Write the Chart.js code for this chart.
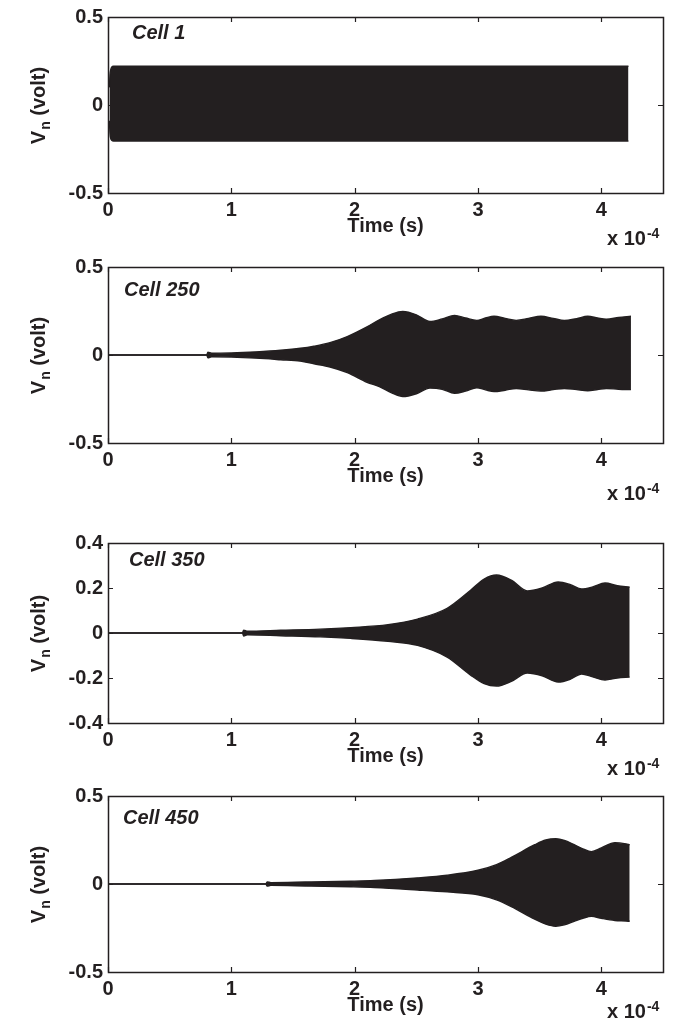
<!DOCTYPE html>
<html>
<head>
<meta charset="utf-8">
<script src="https://cdn.jsdelivr.net/npm/chart.js@4.4.1/dist/chart.umd.min.js"></script>
<style>
  html, body { margin: 0; padding: 0; background: #fff; }
  #wrap { position: relative; width: 685px; height: 1031px; }
  canvas { position: absolute; left: 0; }
</style>
</head>
<body>
<div id="wrap">
  <canvas id="p1" width="685" height="250" style="top:0px"></canvas>
  <canvas id="p2" width="685" height="275" style="top:250px"></canvas>
  <canvas id="p3" width="685" height="254" style="top:525px"></canvas>
  <canvas id="p4" width="685" height="252" style="top:779px"></canvas>
</div>
<script>
// envelope of V_n, time in units of 1e-4 s

const xTicks = [0, 1, 2, 3, 4];
const yTicksHalf = [-0.5, 0, 0.5];
const yTicksCell350 = [-0.4, -0.2, 0, 0.2, 0.4];
const cellLabels = ["Cell 1", "Cell 250", "Cell 350", "Cell 450"];

// Cell 1
const time1  = [0.012, 0.016, 0.022, 0.03, 0.045, 1.0, 2.0, 3.0, 4.0, 4.22];
const upper1 = [0.10, 0.17, 0.20, 0.215, 0.22, 0.22, 0.22, 0.22, 0.22, 0.22];
const lower1 = [-0.09, -0.16, -0.19, -0.2, -0.205, -0.205, -0.205, -0.205, -0.205, -0.205];

// Cell 250
const time2  = [0, 0.80, 0.81, 0.84, 1.0, 1.2, 1.4, 1.56, 1.67, 1.8, 1.94, 2.1, 2.2, 2.3, 2.39, 2.5, 2.61, 2.71, 2.81, 2.9, 2.99, 3.06, 3.13, 3.22, 3.31, 3.41, 3.51, 3.61, 3.7, 3.8, 3.89, 3.97, 4.04, 4.14, 4.24];
const upper2 = [0, 0, 0.016, 0.01, 0.012, 0.018, 0.027, 0.038, 0.05, 0.07, 0.105, 0.16, 0.2, 0.232, 0.247, 0.228, 0.19, 0.205, 0.225, 0.21, 0.197, 0.21, 0.22, 0.208, 0.197, 0.208, 0.22, 0.208, 0.196, 0.207, 0.22, 0.21, 0.203, 0.213, 0.22];
const lower2 = [0, 0, -0.016, -0.01, -0.012, -0.018, -0.027, -0.035, -0.05, -0.068, -0.1, -0.155, -0.18, -0.215, -0.236, -0.22, -0.188, -0.195, -0.218, -0.205, -0.186, -0.198, -0.208, -0.2, -0.19, -0.198, -0.205, -0.197, -0.19, -0.197, -0.203, -0.196, -0.19, -0.195, -0.197];

// Cell 350
const time3  = [0, 1.09, 1.10, 1.13, 1.4, 1.72, 1.97, 2.27, 2.51, 2.75, 2.94, 3.05, 3.15, 3.27, 3.4, 3.52, 3.65, 3.75, 3.84, 3.93, 4.03, 4.13, 4.23];
const upper3 = [0, 0, 0.013, 0.008, 0.012, 0.017, 0.024, 0.037, 0.062, 0.11, 0.19, 0.24, 0.258, 0.235, 0.187, 0.2, 0.227, 0.215, 0.196, 0.205, 0.222, 0.21, 0.204];
const lower3 = [0, 0, -0.013, -0.008, -0.012, -0.017, -0.024, -0.037, -0.055, -0.107, -0.187, -0.225, -0.236, -0.215, -0.178, -0.19, -0.218, -0.205, -0.182, -0.195, -0.209, -0.2, -0.196];

// Cell 450
const time4  = [0, 1.28, 1.29, 1.32, 1.6, 1.97, 2.16, 2.51, 2.75, 3.0, 3.15, 3.27, 3.46, 3.55, 3.63, 3.7, 3.78, 3.85, 3.92, 4.0, 4.11, 4.2, 4.23];
const upper4 = [0, 0, 0.012, 0.008, 0.011, 0.016, 0.02, 0.035, 0.05, 0.078, 0.11, 0.151, 0.223, 0.25, 0.257, 0.248, 0.223, 0.2, 0.184, 0.205, 0.235, 0.228, 0.223];
const lower4 = [0, 0, -0.012, -0.008, -0.011, -0.016, -0.02, -0.034, -0.045, -0.061, -0.09, -0.128, -0.2, -0.228, -0.24, -0.232, -0.212, -0.195, -0.184, -0.195, -0.207, -0.21, -0.212];

const INK = "#231f20";
const FONT = "'Liberation Sans', Arial, Helvetica, sans-serif";

function pts(t, v) {
  return t.map((x, i) => ({ x: x, y: v[i] }));
}

// frame, inward ticks and the text MATLAB puts around the axes
const decor = {
  id: "decor",
  afterDraw(chart, args, o) {
    const ctx = chart.ctx;
    const a = chart.chartArea;
    const xs = chart.scales.x, ys = chart.scales.y;
    ctx.save();
    ctx.strokeStyle = INK;
    ctx.lineWidth = 1.5;
    ctx.strokeRect(a.left + 0.5, a.top + 0.5, a.right - a.left, a.bottom - a.top);
    ctx.lineWidth = 1.2;
    ctx.beginPath();
    xs.ticks.forEach(t => {
      const px = Math.round(xs.getPixelForValue(t.value)) + 0.5;
      ctx.moveTo(px, a.bottom); ctx.lineTo(px, a.bottom - 5);
      ctx.moveTo(px, a.top); ctx.lineTo(px, a.top + 5);
    });
    ys.ticks.forEach(t => {
      const py = Math.round(ys.getPixelForValue(t.value)) + 0.5;
      ctx.moveTo(a.left, py); ctx.lineTo(a.left + 5, py);
      ctx.moveTo(a.right, py); ctx.lineTo(a.right - 5, py);
    });
    ctx.stroke();

    ctx.fillStyle = INK;
    ctx.textBaseline = "alphabetic";
    ctx.textAlign = "left";
    ctx.font = "italic bold 20px " + FONT;
    ctx.fillText(o.cell, o.cellX, a.top + o.cellDy);

    ctx.font = "bold 20px " + FONT;
    ctx.textAlign = "center";
    ctx.fillText("Time (s)", (a.left + a.right) / 2, a.bottom + 39);

    ctx.textAlign = "left";
    ctx.fillText("x 10", 607, a.bottom + o.sciDy);
    const w10 = ctx.measureText("x 10").width;
    ctx.font = "bold 14px " + FONT;
    ctx.fillText("-4", 608 + w10, a.bottom + o.sciDy - 7);

    // y title with subscript
    ctx.translate(45, (a.top + a.bottom) / 2 + 1);
    ctx.rotate(-Math.PI / 2);
    ctx.font = "bold 20px " + FONT;
    const wV = ctx.measureText("V").width;
    const wRest = ctx.measureText(" (volt)").width;
    ctx.font = "bold 14px " + FONT;
    const wn = ctx.measureText("n").width;
    let x0 = -(wV + wn + wRest) / 2;
    ctx.font = "bold 20px " + FONT;
    ctx.fillText("V", x0, 0);
    ctx.font = "bold 14px " + FONT;
    ctx.fillText("n", x0 + wV + 1, 5);
    ctx.font = "bold 20px " + FONT;
    ctx.fillText(" (volt)", x0 + wV + wn + 1, 0);
    ctx.restore();
  }
};

function makePanel(id, time, upper, lower, yTicks, cell, lay) {
  const canvas = document.getElementById(id);
  const H = canvas.height;
  const line = {
    borderColor: INK,
    backgroundColor: INK,
    borderWidth: 1.4,
    pointRadius: 0,
    cubicInterpolationMode: "monotone"
  };
  const noGrid = { display: false, drawTicks: false, tickLength: 0 };
  return new Chart(canvas.getContext("2d"), {
    type: "line",
    data: {
      datasets: [
        Object.assign({ label: "upper", data: pts(time, upper), fill: "+1" }, line),
        Object.assign({ label: "lower", data: pts(time, lower), fill: false }, line)
      ]
    },
    options: {
      responsive: false,
      animation: false,
      devicePixelRatio: 1,
      layout: { padding: { top: lay.top, right: 22, left: 0, bottom: 0 } },
      plugins: {
        legend: { display: false },
        tooltip: { enabled: false },
        decor: { cell: cell, cellX: lay.cellX, cellDy: lay.cellDy, sciDy: lay.sciDy }
      },
      scales: {
        x: {
          type: "linear",
          min: 0,
          max: 4.5,
          grid: noGrid,
          border: { display: false },
          afterBuildTicks: s => { s.ticks = xTicks.map(v => ({ value: v })); },
          afterFit: s => { s.height = H - lay.bottom; },
          ticks: {
            color: INK,
            padding: 5,
            maxRotation: 0,
            font: { family: FONT, size: 20, weight: "bold" },
            callback: v => String(v)
          }
        },
        y: {
          min: yTicks[0],
          max: yTicks[yTicks.length - 1],
          grid: noGrid,
          border: { display: false },
          afterBuildTicks: s => { s.ticks = yTicks.map(v => ({ value: v })); },
          afterFit: s => { s.width = 108; },
          ticks: {
            color: INK,
            padding: 5,
            font: { family: FONT, size: 20, weight: "bold" },
            callback: v => String(v)
          }
        }
      }
    },
    plugins: [decor]
  });
}

makePanel("p1", time1, upper1, lower1, yTicksHalf, cellLabels[0], { top: 14, bottom: 193, cellX: 132, cellDy: 22, sciDy: 52 });
makePanel("p2", time2, upper2, lower2, yTicksHalf, cellLabels[1], { top: 13, bottom: 193, cellX: 124, cellDy: 29, sciDy: 57 });
makePanel("p3", time3, upper3, lower3, yTicksCell350, cellLabels[2], { top: 18, bottom: 198, cellX: 129, cellDy: 23, sciDy: 52 });
makePanel("p4", time4, upper4, lower4, yTicksHalf, cellLabels[3], { top: 14, bottom: 193, cellX: 123, cellDy: 28, sciDy: 46 });
</script>
</body>
</html>
